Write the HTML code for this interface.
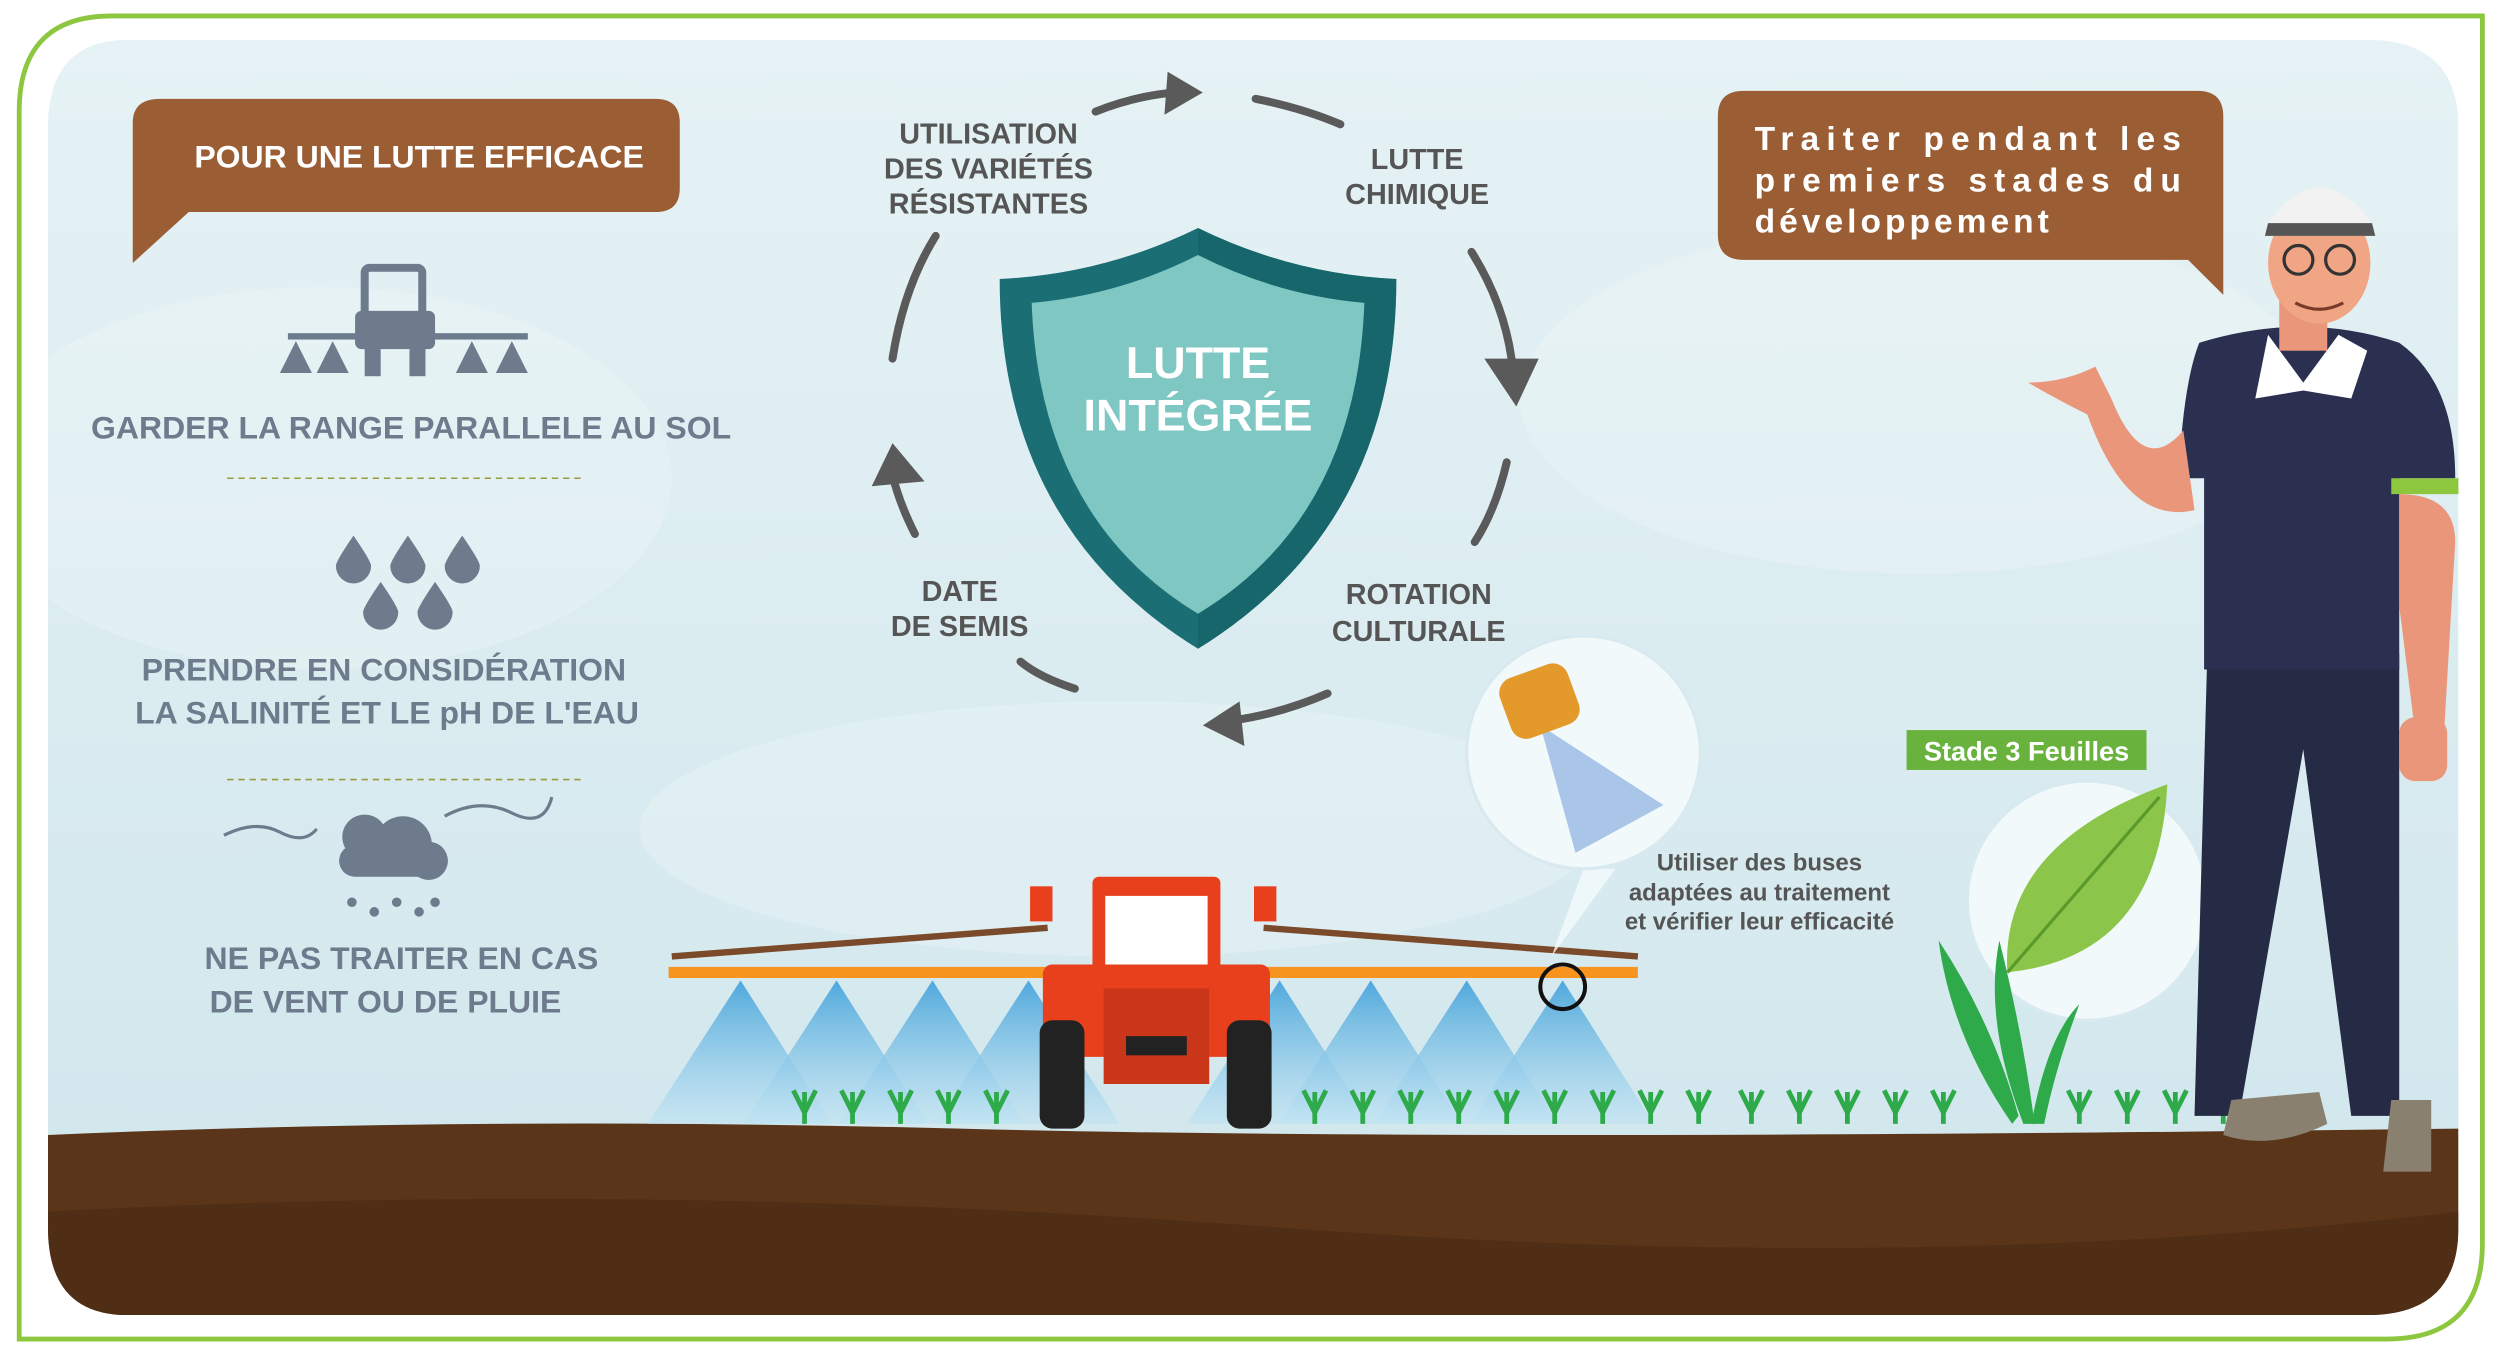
<!DOCTYPE html>
<html><head><meta charset="utf-8"><style>
html,body{margin:0;padding:0;background:#fff;}
svg{display:block;}
text{font-family:"Liberation Sans",sans-serif;font-weight:bold;}
</style></head><body>
<svg width="2500" height="1355" viewBox="0 0 1563 850" preserveAspectRatio="none" xmlns="http://www.w3.org/2000/svg">
<defs>
<linearGradient id="sky" x1="0" y1="0" x2="0" y2="1"><stop offset="0" stop-color="#e6f2f5"/><stop offset="1" stop-color="#cfe6ec"/></linearGradient>
<linearGradient id="spr" x1="0" y1="0" x2="0" y2="1"><stop offset="0" stop-color="#4fa8dc"/><stop offset="1" stop-color="#bfe3f3" stop-opacity="0.6"/></linearGradient>
<clipPath id="inner"><path d="M80,25 H1480 Q1537,25 1537,80 V770 Q1537,825 1480,825 H80 Q30,825 30,770 V80 Q30,25 80,25Z"/></clipPath>
</defs>
<rect width="1563" height="850" fill="#fff"/>
<path d="M70,10 H1552 V780 Q1552,840 1492,840 H12 V70 Q12,10 70,10Z" fill="none" stroke="#8dc63f" stroke-width="3"/>
<g clip-path="url(#inner)">
<rect x="30" y="25" width="1507" height="800" fill="url(#sky)"/>
<ellipse cx="200" cy="300" rx="220" ry="120" fill="#f3f9fa" opacity="0.3"/>
<ellipse cx="1200" cy="250" rx="250" ry="110" fill="#f3f9fa" opacity="0.3"/>
<ellipse cx="700" cy="520" rx="300" ry="80" fill="#f3f9fa" opacity="0.3"/>
<path d="M30,712 Q300,700 600,708 T1537,708 V825 H30Z" fill="#5a3519"/>
<path d="M30,760 Q400,740 800,770 T1537,760 V825 H30Z" fill="#4a2a12" opacity="0.6"/>
</g>
<!-- left callout -->
<path d="M100,62 H410 Q425,62 425,77 V118 Q425,133 410,133 H118 L83,165 V77 Q83,62 100,62Z" fill="#9b5e34"/>
<text x="262" y="105" font-size="20" fill="#fff" text-anchor="middle">POUR UNE LUTTE EFFICACE</text>
<!-- tractor icon -->
<g fill="#6d7b8d">
<rect x="228" y="168" width="36" height="36" rx="3" fill="none" stroke="#6d7b8d" stroke-width="5"/>
<rect x="222" y="195" width="50" height="24" rx="4"/>
<rect x="228" y="210" width="10" height="26"/><rect x="256" y="210" width="10" height="26"/>
<rect x="180" y="209" width="150" height="4"/>
<polygon points="175,234 185,214 195,234"/><polygon points="198,234 208,214 218,234"/>
<polygon points="285,234 295,214 305,234"/><polygon points="310,234 320,214 330,234"/>
</g>
<text x="257" y="275" font-size="20" fill="#6d7b8d" text-anchor="middle">GARDER LA RANGE PARALLELE AU SOL</text>
<line x1="142" y1="300" x2="366" y2="300" stroke="#9a9a40" stroke-dasharray="4,3"/>
<g fill="#6d7b8d">
<path d="M221,336 Q232,352 232,355 A11,11 0 0 1 210,355 Q210,352 221,336Z"/>
<path d="M255,336 Q266,352 266,355 A11,11 0 0 1 244,355 Q244,352 255,336Z"/>
<path d="M289,336 Q300,352 300,355 A11,11 0 0 1 278,355 Q278,352 289,336Z"/>
<path d="M238,365 Q249,381 249,384 A11,11 0 0 1 227,384 Q227,381 238,365Z"/>
<path d="M272,365 Q283,381 283,384 A11,11 0 0 1 261,384 Q261,381 272,365Z"/>
</g>
<text x="240" y="427" font-size="20" fill="#6d7b8d" text-anchor="middle">PRENDRE EN CONSIDÉRATION</text>
<text x="242" y="454" font-size="20" fill="#6d7b8d" text-anchor="middle">LA SALINITÉ ET LE pH DE L'EAU</text>
<line x1="142" y1="489" x2="366" y2="489" stroke="#9a9a40" stroke-dasharray="4,3"/>
<g fill="#6d7b8d">
<circle cx="228" cy="525" r="14"/><circle cx="252" cy="530" r="18"/><circle cx="268" cy="540" r="12"/><rect x="212" y="530" width="68" height="20" rx="10"/>
<circle cx="220" cy="566" r="3"/><circle cx="234" cy="572" r="3"/><circle cx="248" cy="566" r="3"/><circle cx="262" cy="572" r="3"/><circle cx="272" cy="566" r="3"/>
</g>
<path d="M140,524 Q160,514 175,522 T198,520" stroke="#6d7b8d" stroke-width="2" fill="none"/>
<path d="M278,512 Q300,500 320,510 T345,500" stroke="#6d7b8d" stroke-width="2" fill="none"/>
<text x="251" y="608" font-size="20" fill="#6d7b8d" text-anchor="middle">NE PAS TRAITER EN CAS</text>
<text x="241" y="635" font-size="20" fill="#6d7b8d" text-anchor="middle">DE VENT OU DE PLUIE</text>
<!-- cycle arrows -->
<g stroke="#5a5a5a" stroke-width="5" fill="none" stroke-linecap="round">
<path d="M685,70 Q710,60 735,58"/>
<path d="M785,62 Q815,68 838,78"/>
<path d="M920,158 Q940,190 945,225"/>
<path d="M942,290 Q935,320 922,340"/>
<path d="M830,435 Q800,448 770,452"/>
<path d="M672,432 Q650,425 638,415"/>
<path d="M572,335 Q562,315 558,298"/>
<path d="M558,225 Q565,180 585,148"/>
</g>
<g fill="#5a5a5a">
<polygon points="730,45 752,58 728,72"/>
<polygon points="928,225 962,225 948,255"/>
<polygon points="775,440 752,455 778,468"/>
<polygon points="545,305 558,278 578,302"/>
</g>
<!-- shield -->
<path d="M749,143 Q690,172 625,175 Q625,330 749,407 Q873,330 873,175 Q808,172 749,143Z" fill="#1b6e73"/>
<path d="M749,143 Q808,172 873,175 Q873,330 749,407Z" fill="#0f5a5e" opacity="0.4"/>
<path d="M749,160 Q700,185 645,190 Q650,325 749,385 Q848,325 853,190 Q798,185 749,160Z" fill="#7ec7c3"/>
<text x="749" y="237" font-size="28" fill="#fff" text-anchor="middle">LUTTE</text>
<text x="749" y="270" font-size="28" fill="#fff" text-anchor="middle">INTÉGRÉE</text>
<g font-size="18" fill="#555" text-anchor="middle">
<text x="618" y="90">UTILISATION</text><text x="618" y="112">DES VARIÉTÉS</text><text x="618" y="134">RÉSISTANTES</text>
<text x="886" y="106">LUTTE</text><text x="886" y="128">CHIMIQUE</text>
<text x="887" y="379">ROTATION</text><text x="887" y="402">CULTURALE</text>
<text x="600" y="377">DATE</text><text x="600" y="399">DE SEMIS</text>
</g>
<!-- right callout -->
<path d="M1090,57 H1374 Q1390,57 1390,73 V185 L1368,163 H1090 Q1074,163 1074,147 V73 Q1074,57 1090,57Z" fill="#9b5e34"/>
<g font-size="21" fill="#fff" letter-spacing="1.5">
<text x="1097" y="94" textLength="268">Traiter pendant les</text>
<text x="1097" y="120" textLength="268">premiers stades du</text>
<text x="1097" y="146" letter-spacing="2.5">développement</text>
</g>
<!-- sprayer -->
<g>
<polygon points="463,615 405,705 520,705" fill="url(#spr)"/>
<polygon points="523,615 465,705 580,705" fill="url(#spr)"/>
<polygon points="583,615 525,705 640,705" fill="url(#spr)"/>
<polygon points="643,615 585,705 700,705" fill="url(#spr)"/>
<polygon points="800,615 742,705 857,705" fill="url(#spr)"/>
<polygon points="857,615 799,705 914,705" fill="url(#spr)"/>
<polygon points="917,615 859,705 974,705" fill="url(#spr)"/>
<polygon points="977,615 919,705 1034,705" fill="url(#spr)"/>
<line x1="418" y1="610" x2="1024" y2="610" stroke="#f7941d" stroke-width="7"/>
<line x1="420" y1="600" x2="655" y2="582" stroke="#7a4a2a" stroke-width="4"/>
<line x1="790" y1="582" x2="1024" y2="600" stroke="#7a4a2a" stroke-width="4"/>
<rect x="644" y="556" width="14" height="22" fill="#e8401c"/><rect x="784" y="556" width="14" height="22" fill="#e8401c"/>
<rect x="683" y="550" width="80" height="60" rx="4" fill="#e8401c"/>
<rect x="691" y="562" width="64" height="46" fill="#fff"/>
<rect x="652" y="605" width="142" height="58" rx="6" fill="#e8401c"/>
<rect x="690" y="620" width="66" height="60" fill="#c9361a"/>
<rect x="650" y="640" width="28" height="68" rx="8" fill="#222"/>
<rect x="767" y="640" width="28" height="68" rx="8" fill="#222"/>
<rect x="704" y="650" width="38" height="12" fill="#222"/>
<circle cx="977" cy="619" r="14" fill="none" stroke="#111" stroke-width="2.5"/>
</g>
<!-- sprouts -->
<g stroke="#2eaa4a" stroke-width="3" fill="none">
<path d="M503,705 L503,685 M503,698 L496,684 M503,698 L510,684"/>
<path d="M533,705 L533,685 M533,698 L526,684 M533,698 L540,684"/>
<path d="M563,705 L563,685 M563,698 L556,684 M563,698 L570,684"/>
<path d="M593,705 L593,685 M593,698 L586,684 M593,698 L600,684"/>
<path d="M623,705 L623,685 M623,698 L616,684 M623,698 L630,684"/>
<path d="M822,705 L822,685 M822,698 L815,684 M822,698 L829,684"/>
<path d="M852,705 L852,685 M852,698 L845,684 M852,698 L859,684"/>
<path d="M882,705 L882,685 M882,698 L875,684 M882,698 L889,684"/>
<path d="M912,705 L912,685 M912,698 L905,684 M912,698 L919,684"/>
<path d="M942,705 L942,685 M942,698 L935,684 M942,698 L949,684"/>
<path d="M972,705 L972,685 M972,698 L965,684 M972,698 L979,684"/>
<path d="M1002,705 L1002,685 M1002,698 L995,684 M1002,698 L1009,684"/>
<path d="M1032,705 L1032,685 M1032,698 L1025,684 M1032,698 L1039,684"/>
<path d="M1062,705 L1062,685 M1062,698 L1055,684 M1062,698 L1069,684"/>
<path d="M1095,705 L1095,685 M1095,698 L1088,684 M1095,698 L1102,684"/>
<path d="M1125,705 L1125,685 M1125,698 L1118,684 M1125,698 L1132,684"/>
<path d="M1155,705 L1155,685 M1155,698 L1148,684 M1155,698 L1162,684"/>
<path d="M1185,705 L1185,685 M1185,698 L1178,684 M1185,698 L1192,684"/>
<path d="M1215,705 L1215,685 M1215,698 L1208,684 M1215,698 L1222,684"/>
<path d="M1300,705 L1300,685 M1300,698 L1293,684 M1300,698 L1307,684"/>
<path d="M1330,705 L1330,685 M1330,698 L1323,684 M1330,698 L1337,684"/>
<path d="M1360,705 L1360,685 M1360,698 L1353,684 M1360,698 L1367,684"/>
<path d="M1390,705 L1390,685 M1390,698 L1383,684 M1390,698 L1397,684"/>
</g>
<!-- nozzle bubble -->
<polygon points="990,545 970,600 1010,545" fill="#f4fafc" opacity="0.8"/>
<circle cx="990" cy="472" r="73" fill="#f2f9fb" stroke="#d8eaf0" stroke-width="2"/>
<polygon points="963,455 1040,505 985,535" fill="#a9c6e8"/>
<rect x="940" y="420" width="45" height="40" rx="10" fill="#e39a2b" transform="rotate(-20 962 440)"/>
<g font-size="15" fill="#555" text-anchor="middle">
<text x="1100" y="546">Utiliser des buses</text>
<text x="1100" y="565">adaptées au traitement</text>
<text x="1100" y="583">et vérifier leur efficacité</text>
</g>
<!-- leaf -->
<rect x="1192" y="458" width="150" height="25" fill="#6ab23e"/>
<text x="1267" y="477" font-size="17" fill="#fff" text-anchor="middle">Stade 3 Feuilles</text>
<circle cx="1305" cy="565" r="75" fill="#f2f9fb" stroke="#d8eaf0" stroke-width="2"/>
<path d="M1255,610 Q1250,530 1355,492 Q1350,600 1255,610Z" fill="#8bc64a"/>
<path d="M1255,610 L1350,500" stroke="#5a9a2a" stroke-width="2"/>
<g fill="#2eaa4a">
<path d="M1258,705 Q1220,650 1212,590 Q1245,640 1262,700Z"/>
<path d="M1265,705 Q1240,640 1250,590 Q1265,650 1272,705Z"/>
<path d="M1270,705 Q1280,650 1300,630 Q1285,670 1278,705Z"/>
</g>
<!-- man -->
<g>
<path d="M1380,410 L1372,700 L1400,700 L1440,470 L1470,700 L1500,700 L1500,410Z" fill="#252b45"/>
<path d="M1395,690 L1390,712 Q1420,722 1455,705 L1450,685Z" fill="#8a8070"/>
<path d="M1495,690 L1490,735 L1520,735 L1520,690Z" fill="#8a8070"/>
<path d="M1375,215 Q1440,195 1500,215 Q1535,240 1535,300 L1500,300 L1500,420 L1378,420 L1378,300 L1362,300 Q1365,240 1375,215Z" fill="#2b3050"/>
<path d="M1495,300 L1537,300 L1537,310 L1495,310Z" fill="#8dc63f"/>
<path d="M1500,310 Q1535,310 1535,340 L1528,460 L1510,460 L1500,380Z" fill="#e9967a"/>
<rect x="1500" y="450" width="30" height="40" rx="10" fill="#e9967a"/>
<path d="M1365,270 Q1340,300 1320,250 L1310,230 Q1290,240 1268,240 Q1285,250 1305,260 Q1330,330 1372,320Z" fill="#e9967a"/>
<rect x="1425" y="185" width="30" height="35" fill="#e9967a"/>
<path d="M1418,210 L1440,240 L1462,210 L1480,220 L1470,250 L1440,245 L1410,250 L1418,210Z" fill="#fff"/>
<ellipse cx="1450" cy="165" rx="32" ry="38" fill="#f0a585"/>
<path d="M1418,140 Q1450,95 1483,140 L1485,148 L1415,148Z" fill="#f2f2f2"/>
<path d="M1416,148 L1485,148 L1483,140 L1418,140Z" fill="#555"/>
<circle cx="1437" cy="163" r="9" fill="none" stroke="#333" stroke-width="2"/><circle cx="1463" cy="163" r="9" fill="none" stroke="#333" stroke-width="2"/>
<path d="M1435,190 Q1450,198 1465,190" stroke="#7a3a2a" stroke-width="2" fill="none"/>
</g>
</svg>
</body></html>
